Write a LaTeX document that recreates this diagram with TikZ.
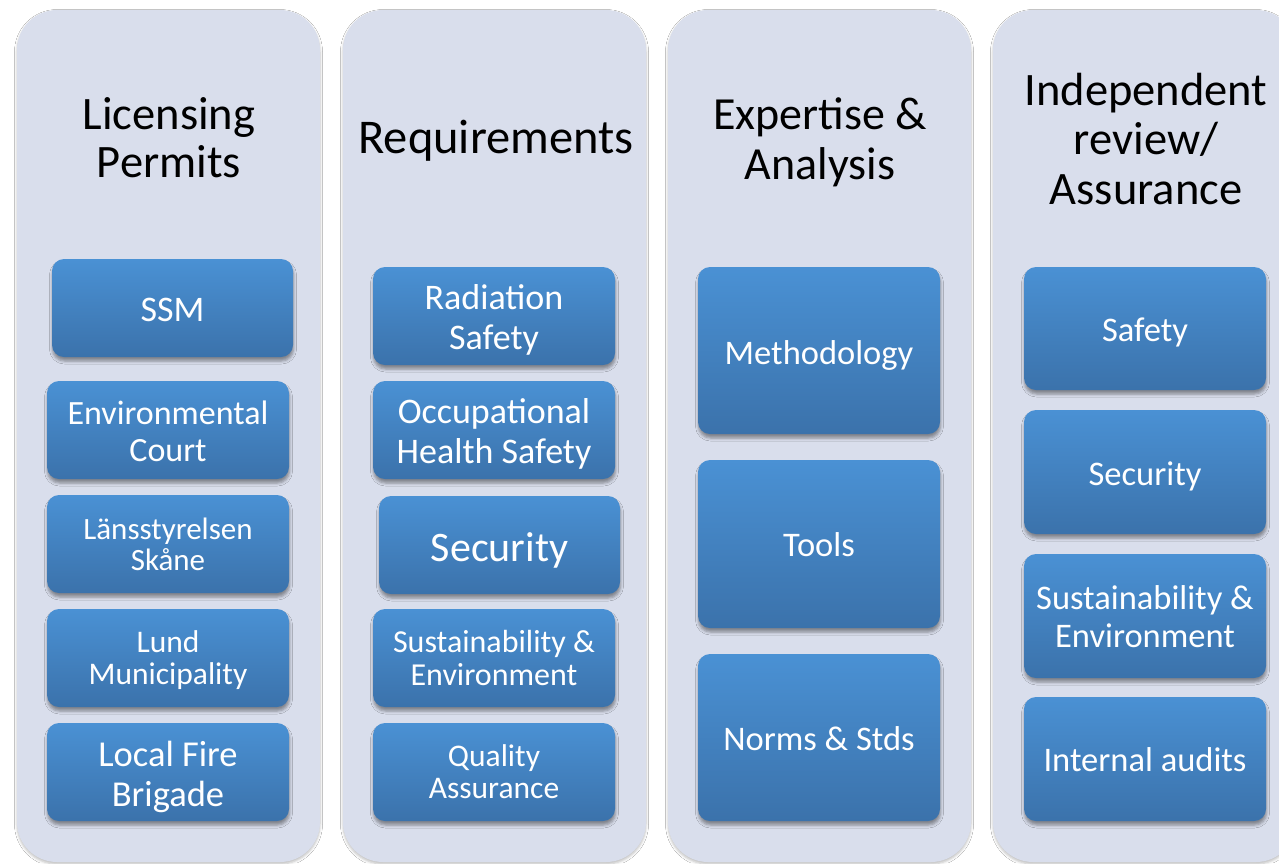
\documentclass[tikz,border=0pt]{standalone}
\usepackage{fontspec}
\setmainfont{Carlito}
\usetikzlibrary{shadows.blur}
\definecolor{lav}{RGB}{217,222,236}
\definecolor{btop}{RGB}{74,145,212}
\definecolor{bbot}{RGB}{59,114,171}
\tikzset{
  colbox/.style={fill=lav, rounded corners=40pt, minimum width=303pt, minimum height=852pt, inner sep=0pt,
    blur shadow={shadow xshift=0pt, shadow yshift=-2pt, shadow blur radius=2.5pt, shadow opacity=25}},
  ttl/.style={align=center, text=black, inner sep=0pt},
  blu/.style={rounded corners=12pt, minimum width=242pt, minimum height=98pt, inner sep=0pt,
    top color=btop, bottom color=bbot,
    blur shadow={shadow xshift=0.5pt, shadow yshift=-4pt, shadow blur radius=3pt, shadow opacity=40}},
  btx/.style={text=white, align=center, inner sep=0pt},
}
\newcommand{\fs}[2]{\fontsize{#1}{#2}\selectfont}
% \bt{box}{font}{shift down}{text}
\newcommand{\bt}[4]{\node[btx, font=#2] (#1t) at ([yshift=-#3pt]#1.center) {#4};}
\begin{document}
\begin{tikzpicture}[x=1pt,y=-1pt]
\useasboundingbox (0,0) rectangle (1279,863);
\clip (0,0) rectangle (1279,863);
\fill[white] (0,0) rectangle (1279,863);
% columns
\node[colbox] (c1) at (168.5,436) {};
\node[colbox] (c2) at (494.5,436) {};
\node[colbox] (c3) at (819.5,436) {};
\node[colbox] (c4) at (1144.5,436) {};
% titles
\node[ttl, font=\fs{46.5}{48}] (t1) at (169,138) {Licensing\\Permits};
\node[ttl, font=\fs{48.5}{50}] (t2) at (496,141) {Requirements};
\node[ttl, font=\fs{46}{50}] (t3) at (820,142) {Expertise \&\\Analysis};
\node[ttl, font=\fs{46.5}{49.5}] (t4) at (1146,139) {Independent\\review/\\Assurance};
% column 1
\node[blu, minimum width=241pt] (ssm) at (172.5,308) {};
\node[blu] (env) at (168,430) {};
\node[blu] (lans) at (168,544) {};
\node[blu] (lund) at (168,658) {};
\node[blu] (fire) at (168,772) {};
\bt{ssm}{\fs{36}{40}}{2}{SSM}
\bt{env}{\fs{34}{37}}{1}{Environmental\\Court}
\bt{lans}{\fs{31}{31}}{0}{Länsstyrelsen\\Skåne}
\bt{lund}{\fs{31.5}{32}}{2}{Lund\\Municipality}
\bt{fire}{\fs{36.5}{40}}{5}{Local Fire\\Brigade}
% column 2
\node[blu] (rad) at (494,316) {};
\node[blu] (occ) at (494,430) {};
\node[blu, minimum width=241pt] (sec2) at (499.5,545) {};
\node[blu] (sus2) at (494,658) {};
\node[blu] (qa) at (494,772) {};
\bt{rad}{\fs{36}{40}}{4}{Radiation\\Safety}
\bt{occ}{\fs{36}{40}}{4}{Occupational\\Health Safety}
\bt{sec2}{\fs{42}{46}}{5}{Security}
\bt{sus2}{\fs{32}{33}}{0}{Sustainability \&\\Environment}
\bt{qa}{\fs{31.5}{32}}{0}{Quality\\Assurance}
% column 3
\node[blu, minimum height=167pt] (meth) at (819,350.5) {};
\node[blu, minimum height=168pt] (tools) at (819,544) {};
\node[blu, minimum height=167pt] (norms) at (819,737.5) {};
\bt{meth}{\fs{34.5}{38}}{5}{Methodology}
\bt{tools}{\fs{34.5}{38}}{1}{Tools}
\bt{norms}{\fs{34.5}{38}}{1}{Norms \& Stds}
% column 4
\node[blu, minimum height=123pt] (saf4) at (1145,328.5) {};
\node[blu, minimum height=124pt] (sec4) at (1145,472) {};
\node[blu, minimum height=124pt] (sus4) at (1145,616) {};
\node[blu, minimum height=124pt] (aud4) at (1145,759) {};
\bt{saf4}{\fs{34.5}{38}}{4}{Safety}
\bt{sec4}{\fs{34.5}{38}}{4}{Security}
\bt{sus4}{\fs{34.5}{38}}{1}{Sustainability \&\\Environment}
\bt{aud4}{\fs{34.5}{38}}{1}{Internal audits}
\end{tikzpicture}
\end{document}
